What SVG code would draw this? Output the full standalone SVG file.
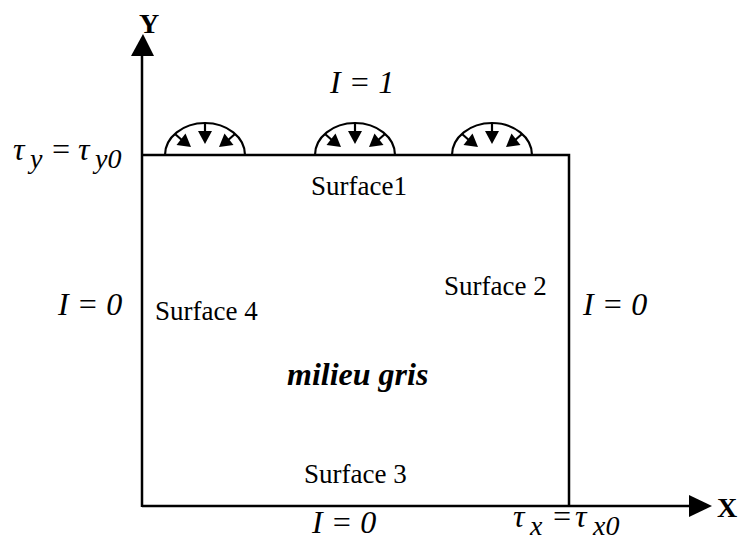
<svg xmlns="http://www.w3.org/2000/svg" xmlns:xlink="http://www.w3.org/1999/xlink" width="738" height="542" viewBox="0 0 738 542">
  <style>
    .ln { stroke: #000; stroke-width: 2.5; fill: none; }
    .dm { stroke: #000; stroke-width: 2.2; fill: none; }
    .hd { fill: #000; stroke: none; }
    .lbl { font-family: "Liberation Serif", "Times New Roman", serif; font-size: 27px; fill: #000; }
    .mth { font-family: "Liberation Serif", "Times New Roman", serif; font-style: italic; font-size: 32px; fill: #000; }
    .sub { font-size: 28px; }
    .ax { font-family: "Liberation Serif", "Times New Roman", serif; font-weight: bold; font-size: 28px; fill: #000; }
    .mg { font-family: "Liberation Serif", "Times New Roman", serif; font-weight: bold; font-style: italic; font-size: 32px; fill: #000; }
  </style>
  <defs>
    <g id="dome">
      <path class="dm" d="M-40,0 A40,32 0 0 1 40,0"/>
      <line class="dm" x1="0" y1="-32" x2="0" y2="-22"/>
      <polygon class="hd" points="-7,-24 7,-24 0,-11"/>
      <line class="dm" x1="-30" y1="-21" x2="-22" y2="-14"/>
      <polygon class="hd" points="-28.5,-10 -19.5,-21.5 -14,-8"/>
      <line class="dm" x1="30" y1="-21" x2="22" y2="-14"/>
      <polygon class="hd" points="28.5,-10 19.5,-21.5 14,-8"/>
    </g>
  </defs>
  <rect width="738" height="542" fill="#fff"/>

  <g id="connectors">
    <g id="y-axis">
      <line class="ln" x1="142" y1="507" x2="142" y2="52"/>
      <polygon class="hd" points="131,56 154,56 143,34"/>
    </g>
    <g id="x-axis">
      <line class="ln" x1="142" y1="506" x2="692" y2="506"/>
      <polygon class="hd" points="689,495 689,517 712,506"/>
    </g>
  </g>

  <g id="domain">
    <polyline class="ln" points="142,155 569,155 569,506"/>
  </g>

  <g id="sources">
    <use xlink:href="#dome" transform="translate(205,155)"/>
    <use xlink:href="#dome" transform="translate(355,155)"/>
    <use xlink:href="#dome" transform="translate(492,155)"/>
  </g>

  <g id="axis-labels">
    <text class="ax" x="139" y="33">Y</text>
    <text class="ax" x="717" y="517">X</text>
  </g>

  <g id="surface1"><text class="lbl" x="311" y="195">Surface1</text></g>
  <g id="surface2"><text class="lbl" x="444" y="295">Surface 2</text></g>
  <g id="surface3"><text class="lbl" x="304" y="483">Surface 3</text></g>
  <g id="surface4"><text class="lbl" x="155" y="320">Surface 4</text></g>
  <g id="medium"><text class="mg" x="287" y="385">milieu gris</text></g>

  <g id="boundary-conditions">
    <text class="mth" x="330" y="93">I = 1</text>
    <text class="mth" x="58" y="315">I = 0</text>
    <text class="mth" x="583" y="315">I = 0</text>
    <text class="mth" x="312" y="533">I = 0</text>
    <text class="mth"><tspan x="13" y="160">τ</tspan><tspan class="sub" x="30" y="168">y</tspan><tspan x="50" y="160">=</tspan><tspan x="78" y="160">τ</tspan><tspan class="sub" x="95" y="168">y0</tspan></text>
    <text class="mth"><tspan x="513" y="527">τ</tspan><tspan class="sub" x="530" y="535">x</tspan><tspan x="551" y="527">=</tspan><tspan x="575" y="527">τ</tspan><tspan class="sub" x="593" y="535">x0</tspan></text>
  </g>
</svg>
